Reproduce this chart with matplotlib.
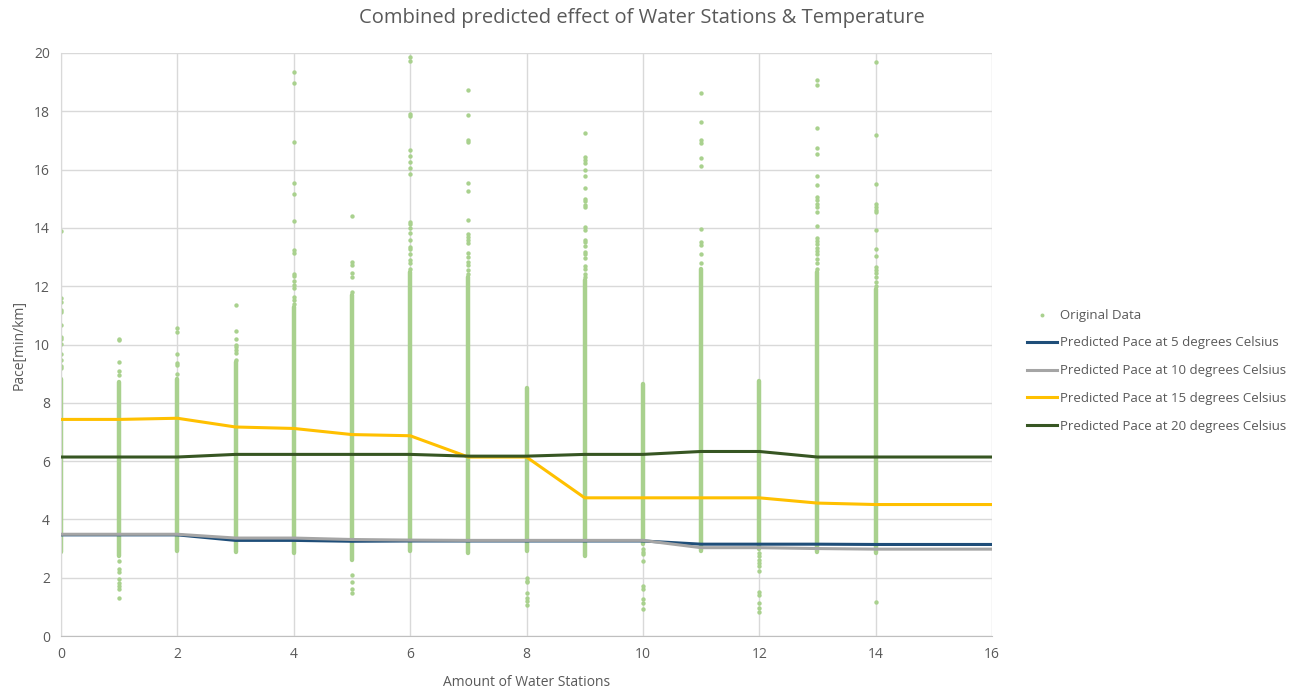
import matplotlib
matplotlib.use('Agg')
import matplotlib.pyplot as plt

## Datos de las curvas predichas (x = 0..16)
estaciones = list(range(17))
pace_5 = [3.47, 3.47, 3.47, 3.28, 3.28, 3.25, 3.26, 3.26, 3.26, 3.26, 3.26, 3.15, 3.15, 3.15, 3.14, 3.14, 3.14]
pace_10 = [3.49, 3.49, 3.49, 3.36, 3.36, 3.31, 3.29, 3.28, 3.28, 3.28, 3.28, 3.03, 3.03, 3.00, 2.98, 2.98, 2.98]
pace_15 = [7.43, 7.43, 7.47, 7.17, 7.12, 6.91, 6.87, 6.14, 6.14, 4.74, 4.74, 4.74, 4.74, 4.56, 4.51, 4.51, 4.51]
pace_20 = [6.14, 6.14, 6.14, 6.23, 6.23, 6.23, 6.23, 6.17, 6.17, 6.23, 6.23, 6.33, 6.33, 6.14, 6.14, 6.14, 6.14]

## Datos originales: zona densa (min, max) por columna y puntos sueltos
columnas = list(range(15))
denso_min = [2.88, 2.75, 2.90, 2.88, 2.85, 2.60, 2.90, 2.85, 2.91, 2.74, 3.14, 2.91, 2.97, 2.88, 2.86]
denso_max = [8.80, 8.70, 8.80, 9.40, 11.30, 11.70, 12.50, 12.30, 8.50, 12.20, 8.66, 12.60, 8.75, 12.50, 11.90]
sueltos = [
    [13.89, 11.58, 11.46, 11.2, 11.12, 10.66, 10.26, 10.2, 10.03, 9.67, 9.46, 9.26, 9.18],
    [10.2, 10.17, 9.39, 9.1, 8.94, 2.57, 2.29, 2.2, 1.94, 1.83, 1.71, 1.6, 1.31],
    [10.57, 10.43, 9.67, 9.35, 9.31, 9.0],
    [11.35, 10.46, 10.2, 10.0, 9.9, 9.8, 9.71, 9.46],
    [19.35, 18.97, 16.95, 15.54, 15.17, 14.22, 13.23, 13.14, 12.43, 12.34, 12.18, 12.03, 11.95, 11.63, 11.54, 11.4],
    [14.4, 12.83, 12.72, 12.46, 12.32, 11.8, 2.08, 1.85, 1.62, 1.49],
    [19.86, 19.73, 17.92, 17.83, 16.66, 16.46, 16.26, 16.07, 15.84, 14.2, 14.13, 13.98, 13.81, 13.58, 13.35,
     13.26, 13.1, 12.9, 12.78, 12.6],
    [18.72, 17.86, 17.03, 16.95, 15.54, 15.25, 14.26, 13.78, 13.7, 13.58, 13.47, 13.14, 13.0, 12.83, 12.72,
     12.55, 12.43],
    [1.98, 1.9, 1.85, 1.46, 1.31, 1.2, 1.05],
    [17.26, 16.43, 16.34, 16.23, 15.98, 15.77, 15.38, 15.0, 14.93, 14.78, 14.7, 14.03, 13.94, 13.6, 13.52,
     13.37, 13.18, 13.1, 12.98, 12.69, 12.6, 12.43, 12.32],
    [2.97, 2.88, 2.8, 2.57, 1.71, 1.6, 1.26, 1.14, 0.94],
    [18.63, 17.65, 17.03, 16.92, 16.4, 16.11, 13.95, 13.5, 13.4, 13.1, 12.78],
    [2.86, 2.75, 2.62, 2.5, 2.4, 2.23, 1.51, 1.39, 1.14, 0.97, 0.82],
    [19.06, 18.89, 17.43, 16.74, 16.53, 15.77, 15.46, 15.06, 14.95, 14.83, 14.72, 14.53, 14.06, 13.64, 13.55,
     13.45, 13.3, 13.2, 13.1, 12.95, 12.78, 12.6],
    [19.69, 17.18, 15.5, 14.83, 14.72, 14.62, 14.55, 13.92, 13.29, 13.03, 12.66, 12.55, 12.45, 12.3, 12.15,
     12.0, 1.17],
]

verde = '#A9D18E'
gris_texto = '#595959'
plt.rcParams['font.family'] = ['Open Sans', 'DejaVu Sans']

fig = plt.figure(figsize=(12.94, 6.9), dpi=100)
ax = fig.add_axes([61 / 1294, 1 - 636 / 690, (992 - 61) / 1294, (636 - 53) / 690])

## Columnas densas de puntos
ax.vlines(columnas, denso_min, denso_max, colors=verde, linewidth=3.2, capstyle='round', zorder=2)

## Puntos sueltos
xs = []
ys = []
for i, vals in enumerate(sueltos):
    for v in vals:
        xs.append(columnas[i])
        ys.append(v)
ax.scatter(xs, ys, s=10, color=verde, linewidths=0, zorder=2, label='Original Data')

## Curvas predichas
ax.plot(estaciones, pace_5, color='#1F4E79', lw=2.2, zorder=3, label='Predicted Pace at 5 degrees Celsius')
ax.plot(estaciones, pace_10, color='#A5A5A5', lw=2.2, zorder=4, label='Predicted Pace at 10 degrees Celsius')
ax.plot(estaciones, pace_15, color='#FFC000', lw=2.2, zorder=5, label='Predicted Pace at 15 degrees Celsius')
ax.plot(estaciones, pace_20, color='#375623', lw=2.2, zorder=6, label='Predicted Pace at 20 degrees Celsius')

ax.set_xlim(0, 16)
ax.set_ylim(0, 20)
ax.set_xticks(range(0, 17, 2))
ax.set_yticks(range(0, 21, 2))
ax.grid(True, color='#D9D9D9', linewidth=1)
ax.set_axisbelow(True)
ax.tick_params(length=0, labelsize=10, labelcolor=gris_texto, pad=8)
for lado in ['top', 'right']:
    ax.spines[lado].set_visible(False)
ax.spines['left'].set_color('#D9D9D9')
ax.spines['bottom'].set_color('#BFBFBF')

## Titulo centrado en la figura
fig.text(0.496, 0.974, 'Combined predicted effect of Water Stations & Temperature', fontsize=14.5,
         color=gris_texto, ha='center', va='center')
ax.set_xlabel('Amount of Water Stations', fontsize=10, color=gris_texto, labelpad=9)
ax.set_ylabel('Pace[min/km]', fontsize=10, color=gris_texto, labelpad=5)

leg = ax.legend(loc='center left', bbox_to_anchor=(1.025, 0.455), frameon=False, fontsize=9.5,
                labelcolor=gris_texto, handlelength=2.3, handletextpad=0.2, labelspacing=1.12,
                markerscale=0.9)

fig.savefig('out.png', dpi=100)
